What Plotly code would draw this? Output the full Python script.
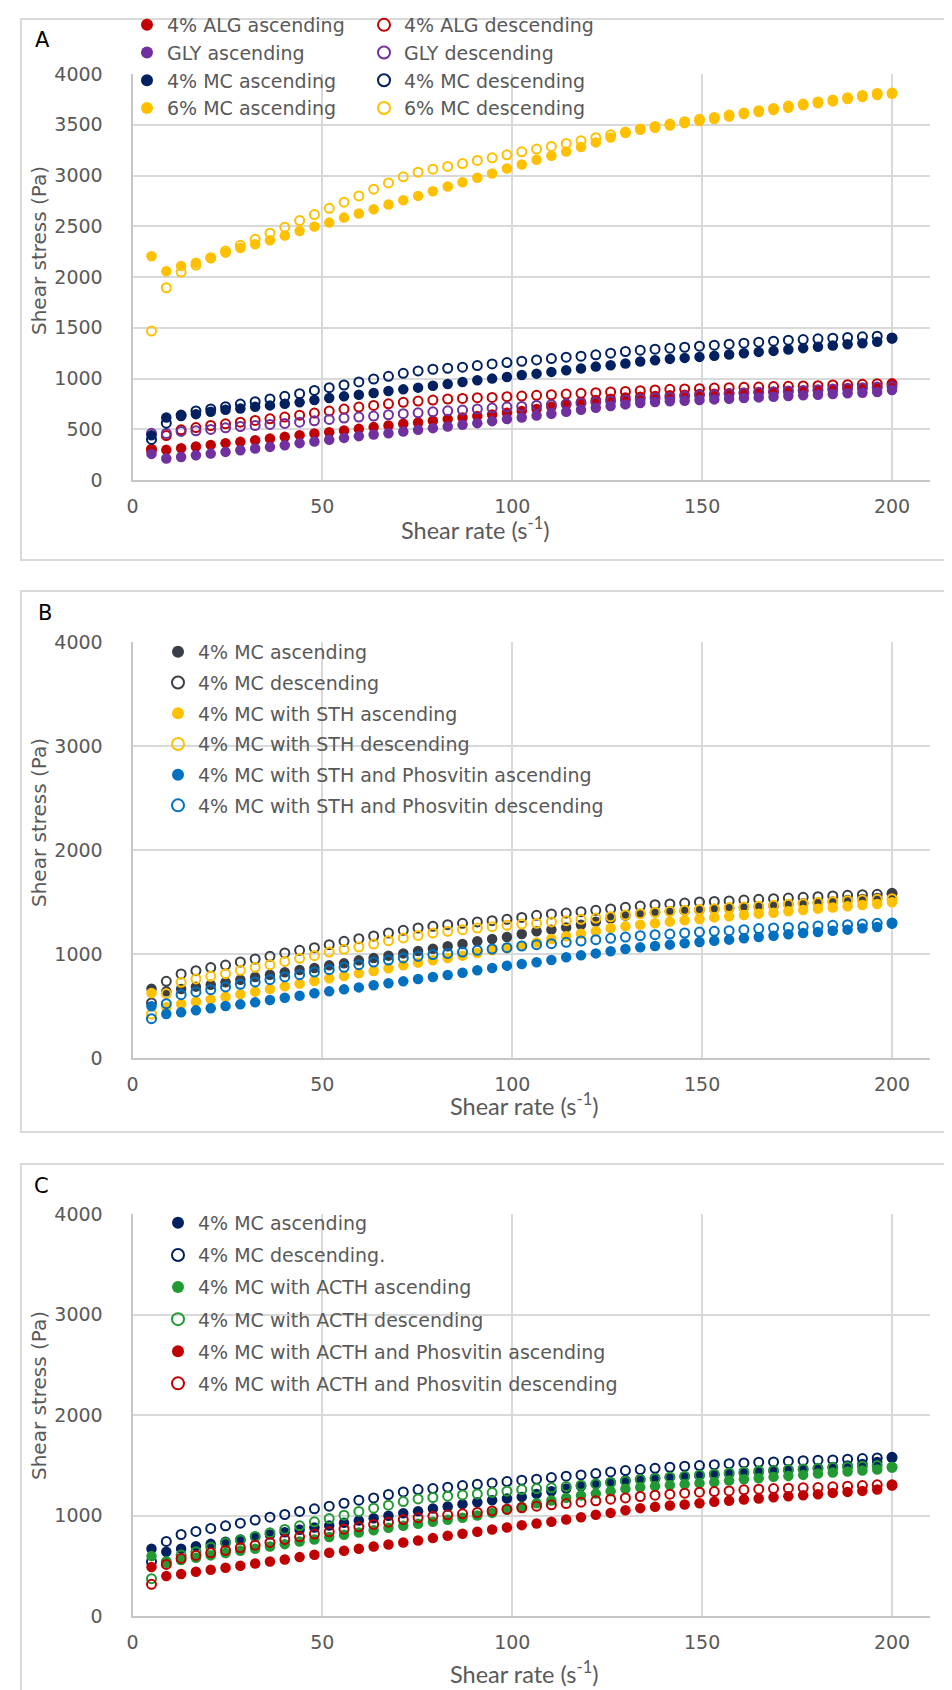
import plotly.graph_objects as go

# ---------------- data ----------------
shear_rate = [5, 8.9, 12.8, 16.7, 20.6, 24.5, 28.4, 32.3, 36.2, 40.1, 44, 47.9, 51.8, 55.7, 59.6,
              63.5, 67.4, 71.3, 75.2, 79.1, 83, 86.9, 90.8, 94.7, 98.6, 102.5, 106.4, 110.3, 114.2,
              118.1, 122, 125.9, 129.8, 133.7, 137.6, 141.5, 145.4, 149.3, 153.2, 157.1, 161, 164.9,
              168.8, 172.7, 176.6, 180.5, 184.4, 188.3, 192.2, 196.1, 200]

# Panel A
alg_asc = [290, 297, 313, 330, 346, 363, 376, 392, 409, 425, 442, 458, 471, 488, 504, 521, 537, 554, 567, 583,
           600, 616, 630, 646, 662, 679, 699, 722, 745, 768, 788, 801, 814, 821, 827, 834, 840, 847, 850, 854,
           860, 864, 867, 873, 877, 883, 890, 897, 903, 910, 940]
alg_desc = [303, 438, 494, 517, 537, 554, 570, 587, 603, 620, 639, 659, 679, 699, 719, 735, 751, 765, 778, 788,
            798, 804, 811, 814, 821, 827, 834, 840, 847, 854, 860, 867, 873, 880, 887, 893, 897, 900, 906, 910,
            913, 916, 920, 923, 926, 929, 936, 939, 943, 949, 950]
gly_asc = [257, 211, 227, 244, 260, 277, 293, 310, 326, 343, 363, 379, 396, 415, 432, 448, 461, 478, 494, 511,
           527, 544, 560, 580, 600, 616, 636, 653, 672, 692, 712, 728, 745, 758, 768, 775, 781, 788, 794, 801,
           808, 814, 821, 827, 834, 840, 847, 854, 860, 867, 887]
gly_desc = [460, 458, 478, 485, 498, 514, 527, 537, 547, 557, 570, 583, 597, 610, 620, 630, 643, 653, 662, 672,
            682, 689, 699, 709, 719, 725, 735, 742, 751, 758, 768, 778, 788, 798, 808, 814, 824, 834, 840, 850,
            857, 864, 870, 877, 883, 890, 897, 903, 910, 916, 920]
mc4_asc = [440, 616, 630, 649, 672, 692, 705, 722, 735, 751, 765, 788, 808, 824, 840, 857, 877, 893, 910, 929,
           946, 966, 982, 999, 1015, 1035, 1048, 1065, 1081, 1098, 1117, 1131, 1147, 1167, 1180, 1193, 1203,
           1213, 1223, 1236, 1249, 1262, 1272, 1285, 1299, 1312, 1325, 1338, 1348, 1361, 1394]
mc4_desc = [400, 560, 640, 680, 700, 722, 748, 771, 798, 824, 850, 883, 910, 936, 966, 995, 1022, 1051, 1075,
            1091, 1101, 1111, 1127, 1144, 1157, 1170, 1183, 1196, 1210, 1220, 1233, 1249, 1266, 1279, 1289,
            1299, 1308, 1318, 1328, 1338, 1348, 1358, 1368, 1378, 1384, 1391, 1397, 1404, 1411, 1417, 1400]
mc6_asc = [2204, 2056, 2108, 2141, 2184, 2240, 2286, 2322, 2362, 2408, 2454, 2497, 2536, 2585, 2625, 2668,
           2714, 2756, 2799, 2845, 2891, 2934, 2977, 3020, 3069, 3108, 3154, 3194, 3237, 3280, 3326, 3375,
           3418, 3451, 3470, 3493, 3516, 3536, 3556, 3582, 3605, 3625, 3645, 3668, 3691, 3711, 3730, 3753,
           3773, 3793, 3806]
mc6_desc = [1467, 1894, 2049, 2118, 2190, 2256, 2312, 2371, 2431, 2490, 2556, 2615, 2677, 2737, 2799, 2865,
            2927, 2987, 3033, 3062, 3089, 3118, 3148, 3174, 3204, 3233, 3260, 3286, 3316, 3342, 3372, 3401,
            3428, 3457, 3483, 3507, 3530, 3553, 3572, 3595, 3615, 3638, 3661, 3684, 3704, 3724, 3743, 3766,
            3789, 3809, 3812]

# Panel B
b_mc_asc = [667, 641, 663, 686, 705, 728, 753, 779, 801, 824, 846, 865, 891, 910, 939, 962, 984, 1006, 1029,
            1051, 1074, 1096, 1122, 1144, 1163, 1192, 1218, 1234, 1256, 1282, 1311, 1340, 1369, 1388, 1401,
            1410, 1417, 1423, 1433, 1439, 1446, 1452, 1461, 1478, 1487, 1494, 1506, 1519, 1529, 1538, 1577]
b_mc_desc = [530, 737, 808, 840, 869, 894, 923, 952, 978, 1010, 1035, 1061, 1090, 1122, 1147, 1173, 1202,
             1228, 1250, 1266, 1282, 1295, 1308, 1320, 1333, 1352, 1372, 1385, 1394, 1407, 1420, 1433, 1449,
             1461, 1474, 1481, 1490, 1500, 1506, 1510, 1519, 1526, 1532, 1538, 1545, 1551, 1558, 1564, 1570,
             1574, 1583]
b_sth_asc = [625, 487, 519, 542, 564, 590, 612, 638, 663, 689, 715, 740, 766, 788, 814, 836, 862, 891, 917,
             939, 962, 984, 1010, 1035, 1055, 1080, 1110, 1144, 1170, 1195, 1218, 1247, 1266, 1282, 1295, 1311,
             1324, 1336, 1352, 1362, 1375, 1388, 1397, 1410, 1423, 1436, 1446, 1458, 1471, 1481, 1497]
b_sth_desc = [423, 620, 728, 760, 785, 811, 843, 872, 897, 929, 958, 984, 1019, 1045, 1067, 1096, 1128, 1154,
              1179, 1202, 1218, 1234, 1250, 1263, 1276, 1288, 1295, 1308, 1320, 1333, 1346, 1359, 1375, 1388,
              1401, 1410, 1420, 1429, 1436, 1446, 1452, 1458, 1468, 1478, 1484, 1494, 1503, 1513, 1519, 1526,
              1532]
b_ph_asc = [497, 423, 439, 458, 478, 500, 516, 535, 558, 580, 599, 622, 641, 660, 679, 699, 718, 737, 760, 779,
            798, 820, 843, 865, 888, 904, 920, 942, 968, 987, 1006, 1026, 1048, 1064, 1077, 1090, 1103, 1115,
            1128, 1138, 1151, 1163, 1176, 1189, 1202, 1211, 1224, 1234, 1247, 1260, 1292]
b_ph_desc = [378, 522, 609, 635, 657, 683, 708, 731, 753, 779, 801, 827, 849, 872, 897, 923, 942, 962, 978, 994,
             1006, 1019, 1035, 1048, 1061, 1077, 1090, 1099, 1112, 1125, 1138, 1151, 1163, 1176, 1186, 1192,
             1202, 1211, 1218, 1224, 1234, 1244, 1250, 1256, 1263, 1269, 1276, 1282, 1288, 1295, 1298]

# Panel C
c_mc_asc = [669, 639, 669, 695, 718, 738, 762, 788, 811, 834, 858, 881, 901, 927, 950, 973, 997, 1023, 1043,
            1069, 1089, 1113, 1132, 1152, 1169, 1185, 1215, 1242, 1268, 1291, 1314, 1331, 1348, 1361, 1374,
            1381, 1387, 1397, 1404, 1414, 1420, 1430, 1440, 1450, 1460, 1470, 1483, 1497, 1513, 1533, 1573]
c_mc_desc = [540, 742, 811, 841, 871, 897, 924, 954, 983, 1010, 1040, 1066, 1093, 1122, 1152, 1175, 1209, 1235,
             1258, 1268, 1281, 1298, 1311, 1324, 1338, 1351, 1361, 1377, 1391, 1404, 1417, 1434, 1447, 1457,
             1470, 1480, 1490, 1497, 1506, 1516, 1523, 1530, 1533, 1540, 1546, 1550, 1553, 1560, 1566, 1573,
             1579]
c_acth_asc = [596, 530, 556, 579, 603, 626, 649, 669, 692, 715, 742, 762, 785, 808, 831, 854, 877, 897, 917,
              937, 957, 977, 1000, 1026, 1056, 1086, 1122, 1149, 1175, 1199, 1218, 1242, 1265, 1281, 1291, 1301,
              1311, 1321, 1331, 1348, 1361, 1371, 1384, 1394, 1404, 1417, 1427, 1437, 1447, 1457, 1480]
c_acth_desc = [371, 540, 606, 639, 685, 728, 755, 791, 828, 861, 897, 937, 970, 1003, 1040, 1073, 1103, 1139,
               1165, 1179, 1192, 1205, 1215, 1228, 1242, 1258, 1268, 1275, 1288, 1301, 1314, 1328, 1341, 1358,
               1367, 1381, 1391, 1404, 1414, 1424, 1434, 1444, 1450, 1457, 1463, 1470, 1477, 1483, 1490, 1497,
               1480]
c_ph_asc = [487, 397, 417, 440, 460, 480, 500, 523, 543, 563, 586, 609, 629, 649, 669, 692, 712, 732, 752, 775,
            798, 818, 838, 861, 881, 904, 920, 937, 960, 983, 1007, 1026, 1053, 1073, 1086, 1099, 1109, 1122,
            1136, 1146, 1159, 1169, 1182, 1192, 1202, 1212, 1225, 1235, 1245, 1258, 1298]
c_ph_desc = [315, 513, 573, 603, 629, 652, 679, 705, 732, 762, 788, 815, 838, 864, 887, 911, 934, 960, 977, 993,
             1007, 1017, 1030, 1046, 1063, 1076, 1093, 1106, 1119, 1132, 1146, 1162, 1175, 1189, 1202, 1212,
             1222, 1232, 1238, 1245, 1255, 1262, 1268, 1272, 1275, 1278, 1285, 1291, 1298, 1305, 1305]

yticks_a = [0, 500, 1000, 1500, 2000, 2500, 3000, 3500, 4000]
yticks_bc = [0, 1000, 2000, 3000, 4000]
xticks = [0, 50, 100, 150, 200]

# ---------------- styling ----------------
W, H = 952, 1690
RED, PURPLE, NAVY, GOLD = "#C00000", "#7030A0", "#002060", "#FFC000"
DARK, BLUE, GREEN = "#3A3F47", "#0070C0", "#229A33"
GRID, AXLINE, TXT = "#D9D9D9", "#C6C6C6", "#595959"
FONT = "DejaVu Sans"


def px_x(p):
    return p / W


def px_y(p):
    return 1 - p / H


fig = go.Figure()


def add(y, name, color, filled, xa, ya, legend):
    if filled:
        marker = dict(symbol="circle", size=10.5, color=color, line=dict(width=0))
    else:
        marker = dict(symbol="circle-open", size=9, color=color, line=dict(width=2, color=color))
    fig.add_trace(go.Scatter(x=shear_rate, y=y, mode="markers", name=name, marker=marker,
                             xaxis=xa, yaxis=ya, legend=legend, legendgroup=name))


# Panel A
add(alg_asc, "4% ALG ascending", RED, True, "x", "y", "legend")
add(alg_desc, "4% ALG descending", RED, False, "x", "y", "legend2")
add(gly_asc, "GLY ascending", PURPLE, True, "x", "y", "legend")
add(gly_desc, "GLY descending", PURPLE, False, "x", "y", "legend2")
add(mc4_asc, "4% MC ascending", NAVY, True, "x", "y", "legend")
add(mc4_desc, "4% MC descending", NAVY, False, "x", "y", "legend2")
add(mc6_asc, "6% MC ascending", GOLD, True, "x", "y", "legend")
add(mc6_desc, "6% MC descending", GOLD, False, "x", "y", "legend2")
# Panel B
add(b_mc_asc, "4% MC ascending", DARK, True, "x2", "y2", "legend3")
add(b_mc_desc, "4% MC descending", DARK, False, "x2", "y2", "legend3")
add(b_sth_asc, "4% MC with STH ascending", GOLD, True, "x2", "y2", "legend3")
add(b_sth_desc, "4% MC with STH descending", GOLD, False, "x2", "y2", "legend3")
add(b_ph_asc, "4% MC with STH and Phosvitin ascending", BLUE, True, "x2", "y2", "legend3")
add(b_ph_desc, "4% MC with STH and Phosvitin descending", BLUE, False, "x2", "y2", "legend3")
# Panel C
add(c_mc_asc, "4% MC ascending", NAVY, True, "x3", "y3", "legend4")
add(c_mc_desc, "4% MC descending.", NAVY, False, "x3", "y3", "legend4")
add(c_acth_asc, "4% MC with ACTH ascending", GREEN, True, "x3", "y3", "legend4")
add(c_acth_desc, "4% MC with ACTH descending", GREEN, False, "x3", "y3", "legend4")
add(c_ph_asc, "4% MC with ACTH and Phosvitin ascending", RED, True, "x3", "y3", "legend4")
add(c_ph_desc, "4% MC with ACTH and Phosvitin descending", RED, False, "x3", "y3", "legend4")

xdom = [px_x(124.5), px_x(922)]
panels = [  # (y px of 0, y px of 4000, yticks)
    (472, 66, yticks_a),
    (1050, 634, yticks_bc),
    (1608, 1206, yticks_bc),
]

layout = dict(width=W, height=H, margin=dict(l=0, r=0, t=0, b=0, autoexpand=False),
              paper_bgcolor="white", plot_bgcolor="white",
              font=dict(family=FONT, color=TXT, size=18))

TICKFONT = dict(family=FONT, size=19, color=TXT)
for i, (y0, y1, yt) in enumerate(panels):
    sfx = "" if i == 0 else str(i + 1)
    layout["xaxis" + sfx] = dict(
        domain=xdom, range=[0, 210], tickvals=xticks, showgrid=True, gridcolor=GRID, gridwidth=1.5,
        showline=True, linecolor=AXLINE, linewidth=2, zeroline=False, ticks="", automargin=False,
        ticklabelstandoff=8, tickfont=TICKFONT, anchor="y" + sfx, fixedrange=True)
    layout["yaxis" + sfx] = dict(
        domain=[px_y(y0), px_y(y1)], range=[0, 4000], tickvals=yt, showgrid=True, gridcolor=GRID,
        gridwidth=1.5, showline=True, linecolor=AXLINE, linewidth=2, zeroline=False, ticks="",
        automargin=False, ticklabelstandoff=24, tickfont=TICKFONT, anchor="x" + sfx, fixedrange=True)


def legend_cfg(left, top, gap):
    return dict(x=px_x(left), y=px_y(top), xanchor="left", yanchor="top", orientation="v",
                bgcolor="rgba(0,0,0,0)", borderwidth=0, tracegroupgap=gap, itemsizing="constant",
                font=dict(family=FONT, size=19, color=TXT))


layout["legend"] = legend_cfg(119, -2, 0)
layout["legend2"] = legend_cfg(356, -2, 0)
layout["legend3"] = legend_cfg(150, 625, 3)
layout["legend4"] = legend_cfg(150, 1196, 4.4)

fig.update_layout(**layout)

# Panel borders
for top, bottom in [(11, 552), (583, 1124), (1156, 1700)]:
    fig.add_shape(type="rect", xref="paper", yref="paper", x0=px_x(13), x1=px_x(960),
                  y0=px_y(bottom), y1=px_y(top), line=dict(color="#D9D9D9", width=2),
                  fillcolor="rgba(0,0,0,0)", layer="below")

# Panel letters
for letter, (lx, ly) in zip(["A", "B", "C"], [(34, 32), (37, 605), (33, 1178)]):
    fig.add_annotation(text=letter, x=px_x(lx), y=px_y(ly), xref="paper", yref="paper",
                       showarrow=False, font=dict(family=FONT, size=21, color="black"),
                       xanchor="center", yanchor="middle")

# Axis titles
for (cx, cy) in [(31, 243), (31, 815), (31, 1388)]:
    fig.add_annotation(text="Shear stress (Pa)", x=px_x(cx), y=px_y(cy), xref="paper", yref="paper",
                       showarrow=False, textangle=-90, font=dict(family=FONT, size=20, color=TXT),
                       xanchor="center", yanchor="middle")
for (cx, cy) in [(467, 520), (516, 1096), (516, 1664)]:
    fig.add_annotation(text="Shear rate (s<sup>-1</sup>)", x=px_x(cx), y=px_y(cy), xref="paper",
                       yref="paper", showarrow=False, font=dict(family="Lato", size=23.5, color=TXT),
                       xanchor="center", yanchor="middle")

fig.write_html("out.html")
